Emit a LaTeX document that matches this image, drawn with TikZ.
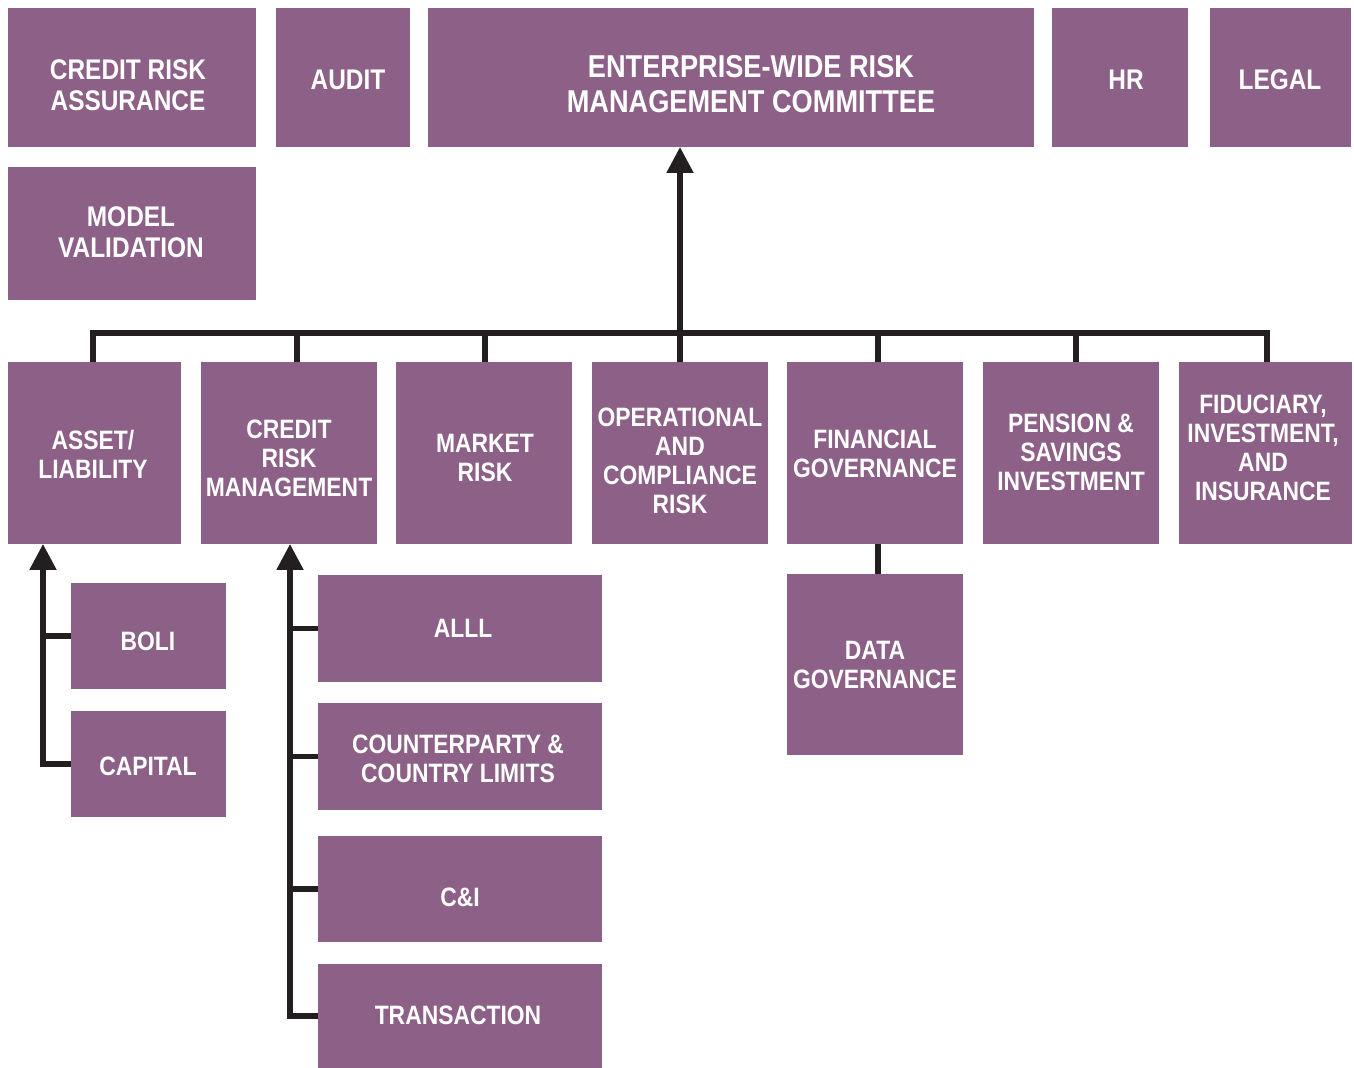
\documentclass[tikz,border=0pt]{standalone}
\usepackage{fontspec}
\setmainfont{Liberation Sans}[FakeStretch=0.86]
\usetikzlibrary{arrows.meta}
\definecolor{plum}{RGB}{141,96,135}
\definecolor{ink}{RGB}{35,31,32}

% \pbox{name}{x1}{y1}{x2}{y2}: filled box given by its corners (pixel units)
\newcommand{\pbox}[5]{%
  \node[box, minimum width={(#4-#2)*0.5pt}, minimum height={(#5-#3)*0.5pt}]
    (#1) at ({(#2+#4)/2},{(#3+#5)/2}) {};}

\begin{document}
\begin{tikzpicture}[x=0.5pt, y=-0.5pt,
  box/.style={rectangle, fill=plum, draw=none, inner sep=0pt, outer sep=0pt},
  lbl/.style={text=white, align=center, inner sep=0pt,
    font=\fontsize{13.3}{14.5}\selectfont\bfseries},
  toplbl/.style={lbl, font=\fontsize{14.2}{15.5}\selectfont\bfseries},
  bigLbl/.style={lbl, font=\fontsize{15.8}{17.5}\selectfont\bfseries},
  conn/.style={draw=ink, line width=2.6pt, line join=miter},
  up/.style={conn, -{Triangle[width=13pt,length=13pt]}}]

\useasboundingbox (0,0) rectangle (1354,1068);

% top row
\pbox{cra}{8}{8}{256}{147}
\pbox{aud}{276}{8}{410}{147}
\pbox{erm}{428}{8}{1034}{147}
\pbox{hr}{1052}{8}{1188}{147}
\pbox{leg}{1210}{8}{1351}{147}
\pbox{mv}{8}{167}{256}{300}

\node[toplbl] (cra-t) at (128,85) {CREDIT RISK\\ASSURANCE};
\node[toplbl] (aud-t) at (348,80) {AUDIT};
\node[bigLbl] (erm-t) at (751,84) {ENTERPRISE-WIDE RISK\\MANAGEMENT COMMITTEE};
\node[toplbl] (hr-t) at (1126,80) {HR};
\node[toplbl] (leg-t) at (1280,80) {LEGAL};
\node[toplbl] (mv-t) at (131,232) {MODEL\\VALIDATION};

% committees row
\pbox{al}{8}{362}{181}{544}
\pbox{crm}{201}{362}{377}{544}
\pbox{mr}{396}{362}{572}{544}
\pbox{op}{592}{362}{768}{544}
\pbox{fg}{787}{362}{963}{544}
\pbox{ps}{983}{362}{1159}{544}
\pbox{fid}{1179}{362}{1352}{544}

\node[lbl] (al-t) at (93,454) {ASSET/\\LIABILITY};
\node[lbl] (crm-t) at (289,458) {CREDIT\\RISK\\MANAGEMENT};
\node[lbl] (mr-t) at (485,458) {MARKET\\RISK};
\node[lbl] (op-t) at (680,461) {OPERATIONAL\\AND\\COMPLIANCE\\RISK};
\node[lbl] (fg-t) at (875,454) {FINANCIAL\\GOVERNANCE};
\node[lbl] (ps-t) at (1071,452) {PENSION \&\\SAVINGS\\INVESTMENT};
\node[lbl] (fid-t) at (1263,448) {FIDUCIARY,\\INVESTMENT,\\AND\\INSURANCE};

% sub-committees
\pbox{boli}{71}{583}{226}{689}
\pbox{cap}{71}{711}{226}{817}
\pbox{alll}{318}{575}{602}{682}
\pbox{cp}{318}{703}{602}{810}
\pbox{ci}{318}{836}{602}{942}
\pbox{tr}{318}{964}{602}{1068}
\pbox{dg}{787}{574}{963}{755}

\node[lbl] (boli-t) at (148,641) {BOLI};
\node[lbl] (cap-t) at (148,766) {CAPITAL};
\node[lbl] (alll-t) at (463,628) {ALLL};
\node[lbl] (cp-t) at (458,759) {COUNTERPARTY \&\\COUNTRY LIMITS};
\node[lbl] (ci-t) at (460,897) {C\&I};
\node[lbl] (tr-t) at (458,1015) {TRANSACTION};
\node[lbl] (dg-t) at (875,665) {DATA\\GOVERNANCE};

% reporting bus into the committee
\coordinate (busL) at (93,333);
\coordinate (busR) at (1267,333);
\coordinate (d2) at (297,333);
\coordinate (d3) at (485,333);
\coordinate (d5) at (878,333);
\coordinate (d6) at (1076,333);
\draw[conn] (busL |- al.north) -- (busL) -- (busR) -- (busR |- fid.north);
\draw[conn] (d2) -- (d2 |- crm.north);
\draw[conn] (d3) -- (d3 |- mr.north);
\draw[conn] (d5) -- (d5 |- fg.north);
\draw[conn] (d6) -- (d6 |- ps.north);
\draw[up] (op.north) -- (op.north |- erm.south);

% asset/liability spine
\coordinate (s1) at (43,0);
\draw[up] (cap.west) -- (cap.west -| s1) -- (s1 |- al.south);
\draw[conn] (boli.west) -- (boli.west -| s1);

% credit risk spine
\coordinate (s2) at (290,0);
\draw[up] (tr.west) -- (tr.west -| s2) -- (s2 |- crm.south);
\draw[conn] (alll.west) -- (alll.west -| s2);
\draw[conn] (cp.west) -- (cp.west -| s2);
\draw[conn] (ci.west) -- (ci.west -| s2);

% financial governance to data governance
\draw[conn] (d5 |- fg.south) -- (d5 |- dg.north);

\end{tikzpicture}
\end{document}
